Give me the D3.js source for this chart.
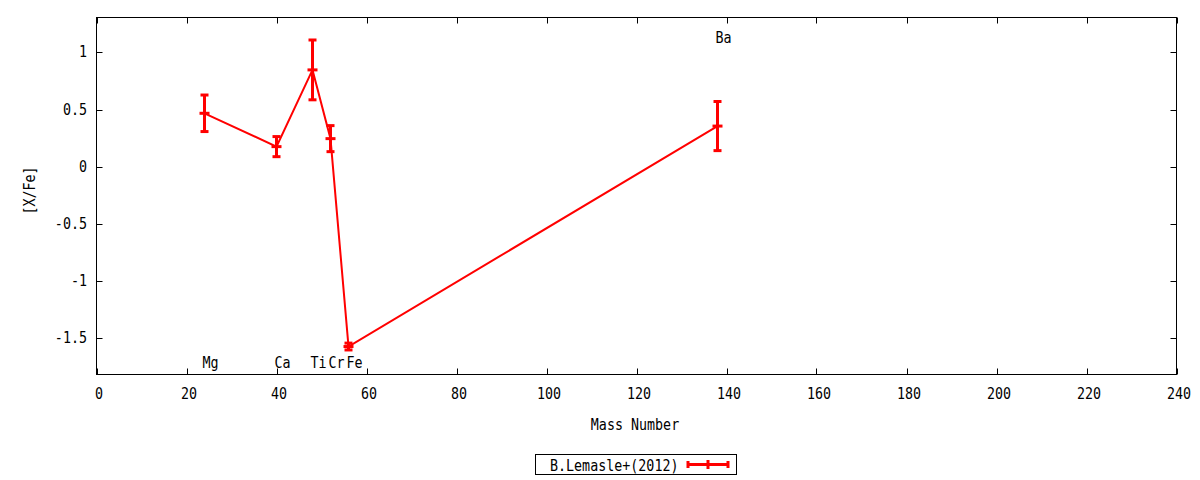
<!DOCTYPE html>
<html>
<head>
<meta charset="utf-8">
<script src="https://cdn.jsdelivr.net/npm/d3@7"></script>
<style>
  html, body { margin: 0; padding: 0; background: #fff; }
  svg { display: block; }
  text { font-family: "DejaVu Sans Mono", monospace; font-size: 15px; fill: #000; }
</style>
</head>
<body>
<svg id="chart" width="1200" height="480"></svg>
<script>
// ---- data ----
const elements = ["Mg", "Ca", "Ti", "Cr", "Fe", "Ba"];
const massNumbers = [24, 40, 48, 52, 56, 138];
const xfeValues = [0.467, 0.175, 0.847, 0.245, -1.576, 0.355];
const xfeErrors = [0.160, 0.088, 0.262, 0.114, 0.030, 0.215];
const labelY = [-1.72, -1.72, -1.72, -1.72, -1.72, 1.13];
const xTicks = [0, 20, 40, 60, 80, 100, 120, 140, 160, 180, 200, 220, 240];
const yTicks = [-1.5, -1, -0.5, 0, 0.5, 1];
const seriesName = "B.Lemasle+(2012)";
const xTitle = "Mass Number";
const yTitle = "[X/Fe]";

// ---- layout ----
const L = 96.5, R = 1176.5, T = 17.5, B = 374.5;
const red = "#ff0000";
const svg = d3.select("#chart");
const x = d3.scaleLinear().domain([0, 240]).range([L, R]);
const y = d3.scaleLinear().domain([-1.821, 1.306]).range([B, T]);

function txt(g, s, px, py, anchor) {
  return g.append("text")
    .attr("transform", `translate(${px},${py}) scale(0.89,1)`)
    .attr("text-anchor", anchor || "start")
    .text(s);
}

// ticks (inward, mirrored)
const tl = 6;
const tg = svg.append("g").attr("stroke", "#000").attr("stroke-width", 1);
xTicks.forEach(t => {
  const px = Math.round(x(t)) + 0.5;
  tg.append("line").attr("x1", px).attr("x2", px).attr("y1", B).attr("y2", B - tl);
  tg.append("line").attr("x1", px).attr("x2", px).attr("y1", T).attr("y2", T + tl);
});
yTicks.forEach(t => {
  const py = Math.round(y(t)) + 0.5;
  tg.append("line").attr("x1", L).attr("x2", L + tl).attr("y1", py).attr("y2", py);
  tg.append("line").attr("x1", R).attr("x2", R - tl).attr("y1", py).attr("y2", py);
});
svg.append("rect").attr("x", L).attr("y", T).attr("width", R - L).attr("height", B - T)
  .attr("fill", "none").attr("stroke", "#000").attr("stroke-width", 1);

// tick labels
const lg = svg.append("g");
xTicks.forEach(t => txt(lg, d3.format("d")(t), x(t) + 2.5, 399, "middle"));
yTicks.forEach(t => txt(lg, String(t), 87, y(t) + 5, "end"));

// axis titles
txt(lg, xTitle, 635, 430, "middle");
lg.append("text").attr("transform", `translate(35,190.5) rotate(-90) scale(0.89,1)`)
  .attr("text-anchor", "middle").text(yTitle);

// data
const pts = massNumbers.map((m, i) => ({ m, v: xfeValues[i], e: xfeErrors[i] }));
svg.append("path").datum(pts)
  .attr("d", d3.line().x(d => x(d.m)).y(d => y(d.v)))
  .attr("fill", "none").attr("stroke", red).attr("stroke-width", 2);

const eg = svg.append("g").attr("stroke", red).attr("stroke-width", 3).attr("fill", "none");
pts.forEach(d => {
  const px = x(d.m);
  eg.append("line").attr("x1", px).attr("x2", px).attr("y1", y(d.v + d.e)).attr("y2", y(d.v - d.e));
  eg.append("line").attr("x1", px - 4).attr("x2", px + 4).attr("y1", y(d.v + d.e)).attr("y2", y(d.v + d.e));
  eg.append("line").attr("x1", px - 4).attr("x2", px + 4).attr("y1", y(d.v - d.e)).attr("y2", y(d.v - d.e));
  eg.append("line").attr("x1", px - 5).attr("x2", px + 5).attr("y1", y(d.v)).attr("y2", y(d.v));
});

// element labels
elements.forEach((el, i) => txt(lg, el, x(massNumbers[i]) - 2, y(labelY[i]) + 5, "start"));

// legend
svg.append("rect").attr("x", 535.5).attr("y", 454.5).attr("width", 201).attr("height", 20)
  .attr("fill", "none").attr("stroke", "#000").attr("stroke-width", 1);
txt(lg, seriesName, 550, 470.5, "start");
const lgE = svg.append("g").attr("stroke", red).attr("stroke-width", 3);
lgE.append("line").attr("x1", 687).attr("x2", 729).attr("y1", 464.5).attr("y2", 464.5);
lgE.append("line").attr("x1", 688).attr("x2", 688).attr("y1", 461).attr("y2", 468);
lgE.append("line").attr("x1", 728).attr("x2", 728).attr("y1", 461).attr("y2", 468);
lgE.append("line").attr("x1", 708).attr("x2", 708).attr("y1", 460).attr("y2", 469);
</script>
</body>
</html>
